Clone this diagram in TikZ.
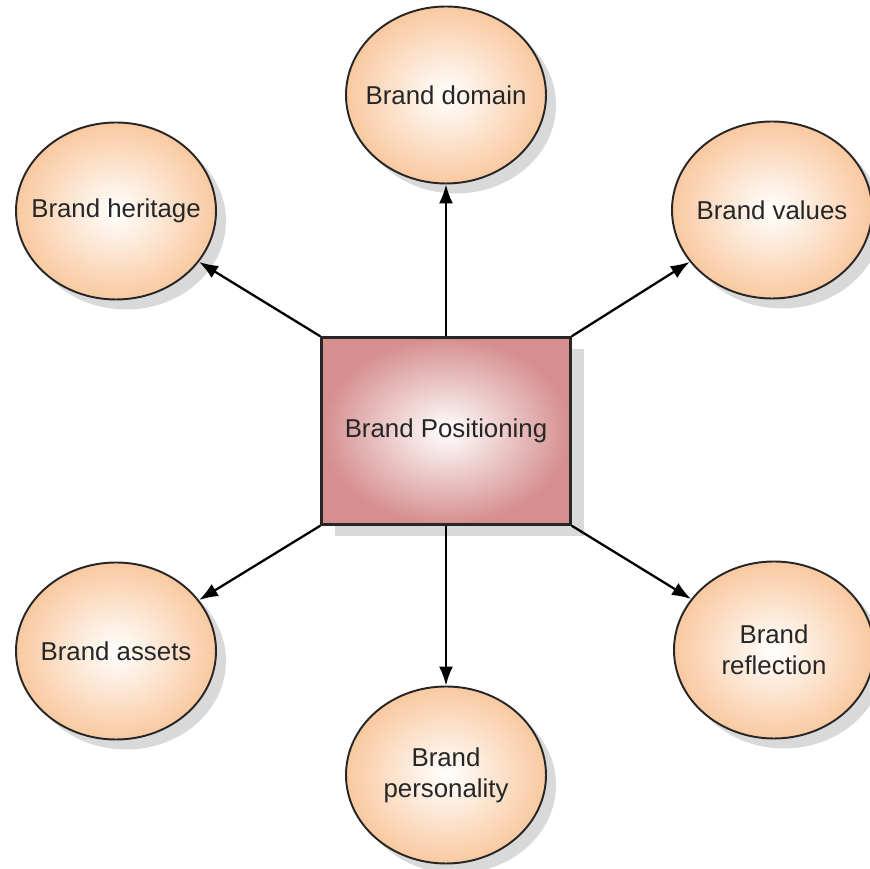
\documentclass[tikz,border=0pt]{standalone}
\usepackage{fontspec}
\setmainfont{Liberation Sans}
\usepackage{xcolor}
\usepackage{tikz}
\usetikzlibrary{arrows.meta,positioning,shapes.geometric,shadows}
\definecolor{peach}{HTML}{F9C9A0}
\definecolor{rose}{HTML}{D68E8E}
\definecolor{inkline}{HTML}{262626}
\definecolor{shadowgray}{HTML}{D9D9D9}
\tikzset{
  bubble/.style={ellipse,draw=inkline,line width=1.1pt,
                 inner color=white,outer color=peach,
                 minimum width=4.0cm,minimum height=3.54cm,
                 inner xsep=-0.5cm,inner ysep=0pt,
                 align=center,text=black!85,
                 drop shadow={shadow xshift=0.2cm,shadow yshift=-0.2cm,
                              fill=shadowgray,opacity=1}},
  hub/.style={rectangle,draw=inkline,line width=1.4pt,
              inner color=white,outer color=rose,
              minimum width=4.98cm,minimum height=3.74cm,
              text=black!85,
              drop shadow={shadow xshift=0.26cm,shadow yshift=-0.24cm,
                           fill=shadowgray,opacity=1}},
  arrowlink/.style={-{Latex[length=3.8mm,width=2.8mm]},line width=1.3pt,black},
}

\begin{document}
\begin{tikzpicture}[font=\fontsize{14.7}{17.5}\selectfont]
  \useasboundingbox (0,0) rectangle (17.4,17.38);

  % centre box
  \node[hub] (hub) at (8.92,8.76) {Brand Positioning};

  % surrounding bubbles
  \node[bubble] (domain)      at (8.92,15.48) {Brand domain};
  \node[bubble] (heritage)    at (2.32,13.16) {Brand heritage};
  \node[bubble] (values)      at (15.44,13.18) {Brand values};
  \node[bubble] (assets)      at (2.32,4.36)  {Brand assets};
  \node[bubble] (personality) at (8.92,1.88)  {Brand\\personality};
  \node[bubble] (reflection)  at (15.48,4.38) {Brand\\reflection};

  % links out of the box
  \draw[arrowlink] (hub.north)       -- (domain);
  \draw[arrowlink] (hub.north west)  -- (heritage);
  \draw[arrowlink] (hub.north east)  -- (values);
  \draw[arrowlink] (hub.south west)  -- (assets);
  \draw[arrowlink] (hub.south)       -- (personality);
  \draw[arrowlink] (hub.south east)  -- (reflection);
\end{tikzpicture}
\end{document}
